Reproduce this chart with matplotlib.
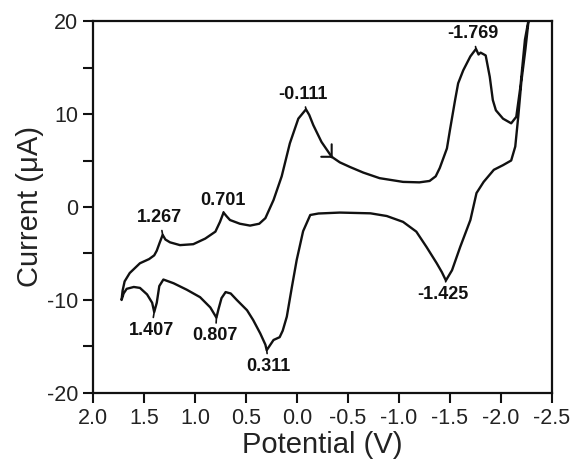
import matplotlib
matplotlib.use("Agg")
import matplotlib.pyplot as plt
import numpy as np

plt.rcParams['font.family'] = ['Liberation Sans', 'DejaVu Sans']

# Cyclic voltammogram: start at -0.34 V, scan negative,
# reverse at about -2.29 V, turn again at 1.72 V and come back to the start.
potential = [
    -0.34, -0.42, -0.52, -0.65, -0.81, -1.04, -1.20, -1.30, -1.36, -1.40,
    -1.43, -1.47, -1.50, -1.55, -1.58, -1.63, -1.70, -1.755, -1.78, -1.80,
    -1.85, -1.89, -1.92, -1.95, -2.02, -2.10, -2.15, -2.19, -2.235, -2.27,
    -2.29,
    -2.28, -2.24, -2.20, -2.17, -2.14, -2.10, -2.02, -1.93, -1.83, -1.76,
    -1.70, -1.60, -1.52, -1.46, -1.42, -1.37, -1.27, -1.17, -1.04, -0.88,
    -0.72, -0.42, -0.21, -0.13, -0.06, 0.003, 0.05, 0.10, 0.14, 0.17, 0.23,
    0.297, 0.31, 0.36, 0.43, 0.49, 0.59, 0.65, 0.70, 0.74, 0.77,
    0.79, 0.85, 0.95, 1.08, 1.21, 1.31, 1.35, 1.375, 1.40, 1.42,
    1.47, 1.54, 1.60, 1.67, 1.70, 1.72,
    1.71, 1.69, 1.64, 1.54, 1.45, 1.40, 1.375, 1.345, 1.317, 1.29,
    1.245, 1.147, 1.017, 0.90, 0.80, 0.755, 0.72, 0.69, 0.657, 0.56,
    0.46, 0.37, 0.31, 0.23, 0.15, 0.07, -0.013, -0.088, -0.12, -0.16,
    -0.24, -0.34,
]
current = [
    5.4, 4.8, 4.3, 3.7, 3.1, 2.7, 2.65, 2.8, 3.3, 4.2,
    5.1, 6.3, 8.3, 11.5, 13.3, 14.7, 16.2, 17.0, 16.4, 16.6,
    16.3, 14.0, 11.5, 10.4, 9.5, 9.0, 9.7, 12.9, 18.0, 20.1,
    22.0,
    21.0, 17.0, 13.5, 9.8, 6.5, 5.0, 4.5, 4.0, 2.7, 1.5,
    -1.4, -4.3, -6.8, -7.9, -7.0, -6.05, -4.3, -2.65, -1.6, -0.97,
    -0.68, -0.6, -0.7, -0.86, -2.6, -5.7, -8.6, -11.8, -13.3, -14.0, -14.3,
    -15.4, -14.8, -13.6, -12.15, -11.1, -10.0, -9.3, -9.15, -9.8, -11.0,
    -11.9, -10.8, -9.7, -8.9, -8.2, -7.8, -8.5, -10.3, -11.3, -10.3,
    -9.4, -8.7, -8.6, -8.8, -9.3, -10.0,
    -9.0, -8.0, -7.1, -6.05, -5.6, -5.2, -4.7, -3.8, -3.0, -3.5,
    -3.8, -4.1, -4.0, -3.4, -2.65, -1.6, -0.6, -1.0, -1.4, -1.8,
    -2.0, -1.8, -1.2, 0.75, 3.3, 6.85, 9.5, 10.5, 9.9, 8.8,
    7.0, 5.4,
]

# peak labels and where the peaks sit on the curve
peak_labels = ["-0.111", "-1.769", "1.267", "0.701", "1.407", "0.807", "0.311", "-1.425"]
peak_v = [-0.088, -1.755, 1.317, 0.72, 1.40, 0.79, 0.297, -1.46]
peak_i = [10.5, 17.0, -3.0, -0.6, -11.3, -11.9, -15.4, -7.9]
label_dy = [15, 15, 17, 12, -18, -18, -16, -14]   # pixels above / below the peak
label_dx = [-3, -3, -3, -1, -3, -1, 2, -3]

x_ticks = [2.0, 1.5, 1.0, 0.5, 0.0, -0.5, -1.0, -1.5, -2.0, -2.5]
y_ticks = [-20, -15, -10, -5, 0, 5, 10, 15, 20]

fig = plt.figure(figsize=(5.72, 4.67), dpi=100)
ax = fig.add_axes([0.1626, 0.1585, 0.8024, 0.7965])

ax.plot(potential, current, color='#111111', lw=1.7, solid_joinstyle='round')

# start mark of the scan
start = (potential[0], current[0])
ax.annotate('', xy=start, xytext=(-7.5, 0), textcoords='offset points',
            arrowprops=dict(arrowstyle='-', lw=1.5, color='#111111', shrinkA=0, shrinkB=0))
ax.annotate('', xy=start, xytext=(0, 9), textcoords='offset points',
            arrowprops=dict(arrowstyle='-', lw=1.5, color='#111111', shrinkA=0, shrinkB=0))

for lab, v, i, dx, dy in zip(peak_labels, peak_v, peak_i, label_dx, label_dy):
    ax.annotate(lab, xy=(v, i), xytext=(dx * 0.72, dy * 0.72), textcoords='offset points',
                ha='center', va='center', fontsize=13, fontweight='bold', color='#111111',
                arrowprops=dict(arrowstyle='-', lw=1.2, color='#111111', shrinkA=1, shrinkB=0))

ax.set_xlim(2.0, -2.5)
ax.set_ylim(-20, 20)
ax.set_xticks(x_ticks)
ax.set_xticklabels([f"{t:.1f}" for t in x_ticks])
ax.set_yticks(y_ticks)
ax.set_yticklabels([str(t) if t % 10 == 0 else '' for t in y_ticks])
ax.tick_params(direction='out', length=7.5, width=1.5, labelsize=15.5, colors='#111111',
               labelcolor='#222222', pad=3)

for s in ax.spines.values():
    s.set_linewidth(1.6)
    s.set_color('#111111')

ax.set_xlabel("Potential (V)", fontsize=21, color='#222222', labelpad=2)
ax.set_ylabel("Current (\u03bcA)", fontsize=21, color='#222222', labelpad=2)

fig.savefig("out.png", dpi=100)
